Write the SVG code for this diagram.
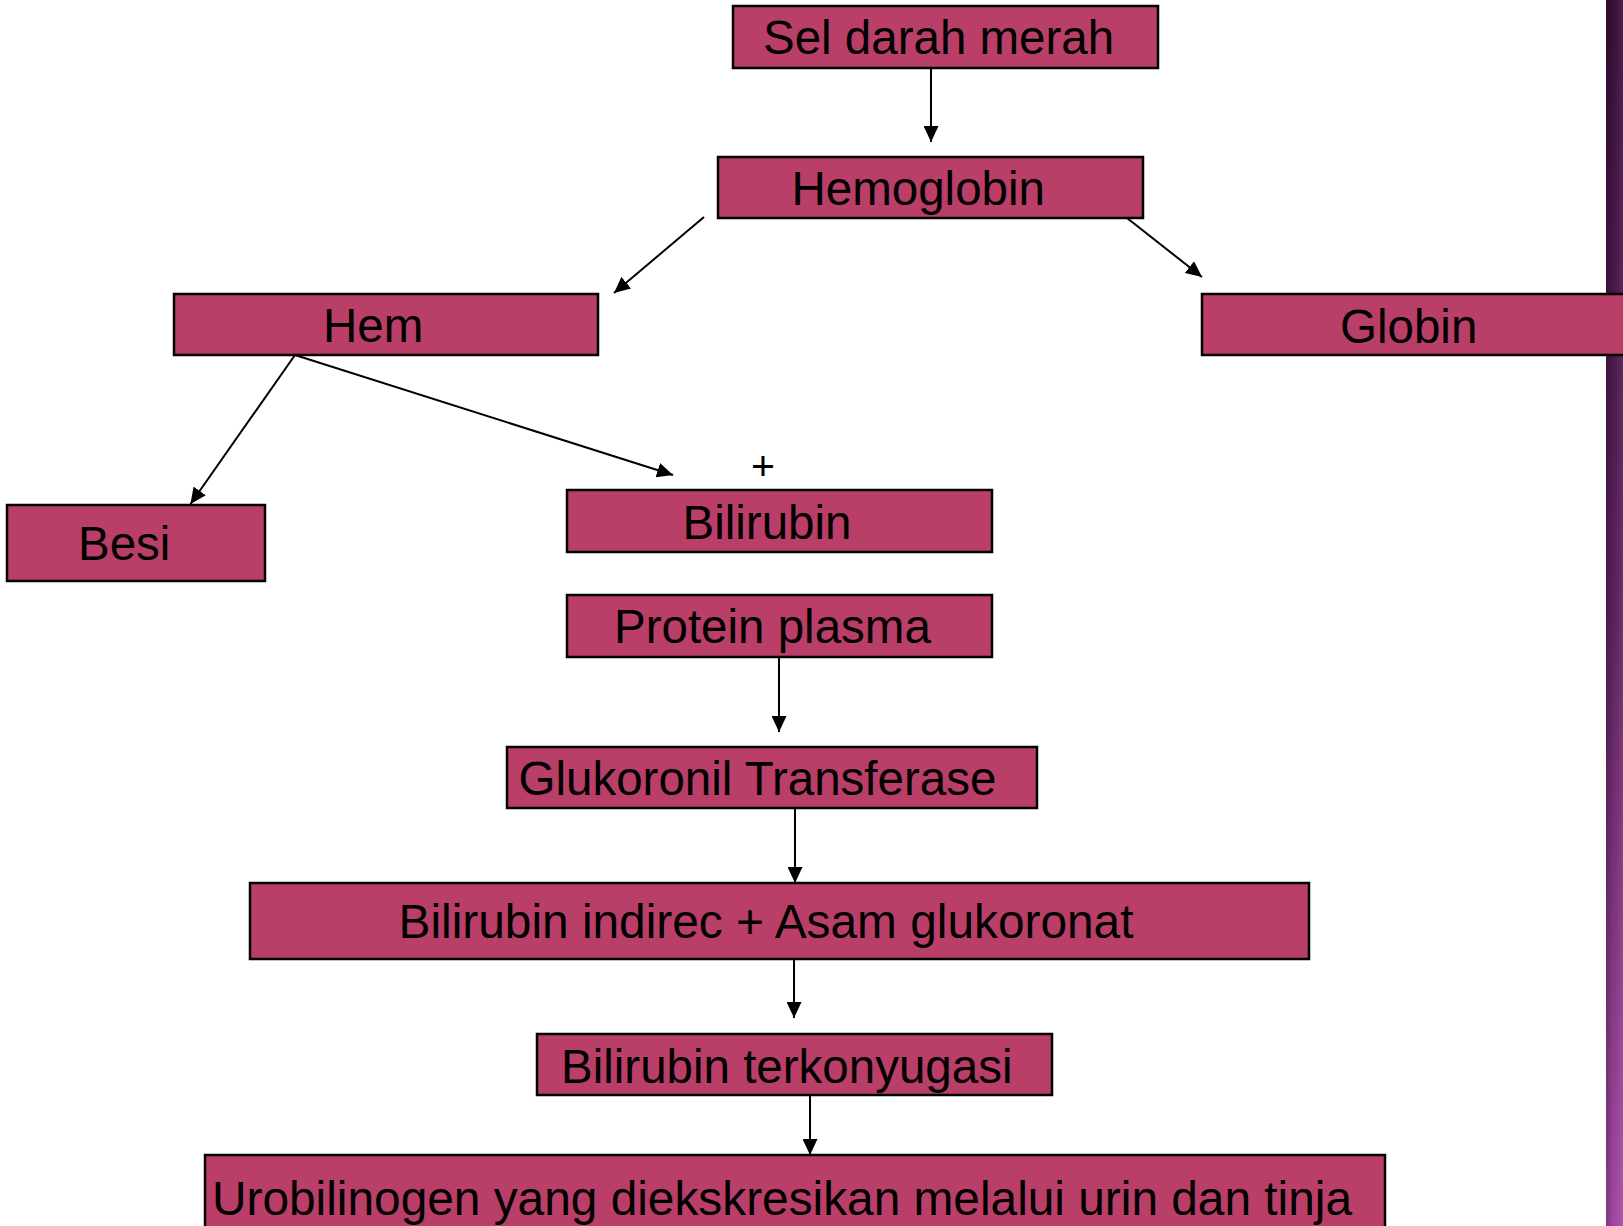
<svg xmlns="http://www.w3.org/2000/svg" width="1623" height="1226" viewBox="0 0 1623 1226">
<style>
.box{fill:#B93E68;stroke:#000;stroke-width:2.5}
.lbl{font-family:"Liberation Sans",Arial,sans-serif;font-size:47.5px;fill:#000}
.con{stroke:#000;stroke-width:2;fill:none;marker-end:url(#ah)}
</style>
<defs>
<marker id="ah" markerUnits="userSpaceOnUse" markerWidth="16" markerHeight="15" refX="16" refY="7.5" orient="auto">
<path d="M0,0 L16,7.5 L0,15 z" fill="#000"/>
</marker>
<linearGradient id="barV" x1="0" y1="0" x2="0" y2="1">
<stop offset="0" stop-color="#3a0f3a"/>
<stop offset="0.5" stop-color="#5e2260"/>
<stop offset="1" stop-color="#a84aa6"/>
</linearGradient>
<linearGradient id="barH" x1="0" y1="0" x2="1" y2="0">
<stop offset="0" stop-color="#000" stop-opacity="0.25"/>
<stop offset="0.4" stop-color="#000" stop-opacity="0.05"/>
<stop offset="1" stop-color="#fff" stop-opacity="0.08"/>
</linearGradient>
</defs>
<rect width="1623" height="1226" fill="#fff"/>
<rect x="1606" y="0" width="17" height="1226" fill="url(#barV)"/>
<rect x="1606" y="0" width="17" height="1226" fill="url(#barH)"/>
<g id="connectors">
<line class="con" x1="931" y1="68" x2="931" y2="142"/>
<line class="con" x1="704" y1="217" x2="614" y2="293"/>
<line class="con" x1="1127" y1="218" x2="1202" y2="277"/>
<line class="con" x1="295" y1="355" x2="190.5" y2="504"/>
<line class="con" x1="295" y1="355" x2="673" y2="475"/>
<line class="con" x1="779" y1="657" x2="779" y2="732"/>
<line class="con" x1="795" y1="808" x2="795" y2="883"/>
<line class="con" x1="794" y1="944" x2="794" y2="1018"/>
<line class="con" x1="810" y1="1095" x2="810" y2="1155"/>
</g>
<g id="sel-darah-merah"><rect class="box" x="733" y="6" width="425" height="62"/><text class="lbl" x="763" y="54">Sel darah merah</text></g>
<g id="hemoglobin"><rect class="box" x="718" y="157" width="425" height="61"/><text class="lbl" x="791.5" y="205">Hemoglobin</text></g>
<g id="hem"><rect class="box" x="174" y="294" width="424" height="61"/><text class="lbl" x="323" y="342">Hem</text></g>
<g id="globin"><rect class="box" x="1202" y="294" width="440" height="61"/><text class="lbl" x="1340" y="342.5">Globin</text></g>
<g id="besi"><rect class="box" x="7" y="505" width="258" height="76"/><text class="lbl" x="78" y="560">Besi</text></g>
<g id="plus"><text x="763" y="480" text-anchor="middle" style="font-family:'Liberation Sans',Arial,sans-serif;font-size:41px;fill:#000">+</text></g>
<g id="bilirubin"><rect class="box" x="567" y="490" width="425" height="62"/><text class="lbl" x="682.5" y="539">Bilirubin</text></g>
<g id="protein-plasma"><rect class="box" x="567" y="595" width="425" height="62"/><text class="lbl" x="614" y="643">Protein plasma</text></g>
<g id="glukoronil-transferase"><rect class="box" x="507" y="747" width="530" height="61"/><text class="lbl" x="518.5" y="795">Glukoronil Transferase</text></g>
<g id="bilirubin-indirec"><rect class="box" x="250" y="883" width="1059" height="76"/><text class="lbl" x="398.5" y="937.5" textLength="735" lengthAdjust="spacingAndGlyphs">Bilirubin indirec + Asam glukoronat</text></g>
<g id="bilirubin-terkonyugasi"><rect class="box" x="537" y="1034" width="515" height="61"/><text class="lbl" x="561" y="1082.5">Bilirubin terkonyugasi</text></g>
<g id="urobilinogen"><rect class="box" x="205" y="1155" width="1180" height="90"/><text class="lbl" x="212" y="1215" textLength="1140" lengthAdjust="spacingAndGlyphs">Urobilinogen yang diekskresikan melalui urin dan tinja</text></g>
</svg>
